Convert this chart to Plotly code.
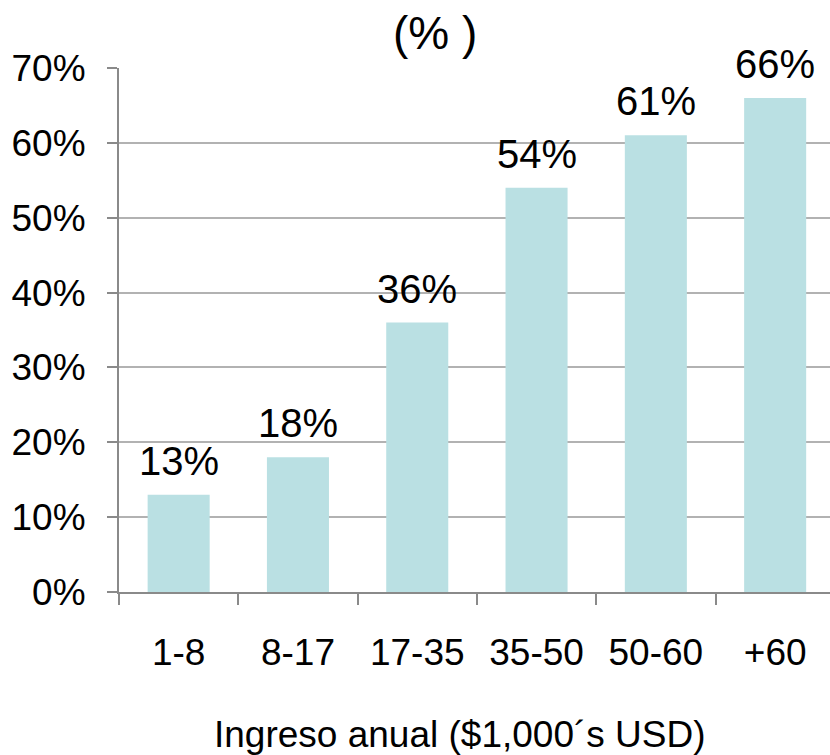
import plotly.graph_objects as go

# Share by annual income bracket (thousands of USD)
categories = ["1-8", "8-17", "17-35", "35-50", "50-60", "+60"]
values = [13, 18, 36, 54, 61, 66]
y_ticks = [0, 10, 20, 30, 40, 50, 60, 70]
y_tick_labels = [f"{t}%" for t in y_ticks]

FONT = "Liberation Sans, Arial, sans-serif"
BAR = "#bae0e3"
GRID = "#b2b2b2"
AXIS = "#8a8a8a"

W, H = 830, 755
L, R, T, B = 119, 0, 68, 163
plot_w = W - L - R
plot_h = H - T - B

def px_x(px):
    return (px - L) / plot_w

def px_y(py):
    return (H - B - py) / plot_h

fig = go.Figure(
    go.Bar(
        x=categories,
        y=values,
        marker=dict(color=BAR, line=dict(width=0)),
        hoverinfo="skip",
    )
)

# value labels above each bar (positioned by category index)
for i, v in enumerate(values):
    fig.add_annotation(
        x=i, y=v, xref="x", yref="y",
        text=f"{v}%", showarrow=False,
        yanchor="bottom", yshift=10,
        font=dict(family=FONT, size=40, color="black"),
    )

fig.add_annotation(
    x=px_x(435), y=px_y(33), xref="paper", yref="paper",
    text="(% )", showarrow=False, xanchor="center", yanchor="middle",
    font=dict(family=FONT, size=46, color="black"),
)
fig.add_annotation(
    x=px_x(460), y=px_y(734), xref="paper", yref="paper",
    text="Ingreso anual ($1,000´s USD)", showarrow=False,
    xanchor="center", yanchor="middle",
    font=dict(family=FONT, size=37, color="black"),
)

fig.update_layout(
    width=W, height=H,
    margin=dict(l=L, r=R, t=T, b=B, pad=0),
    paper_bgcolor="white", plot_bgcolor="white",
    bargap=0.48,
    showlegend=False,
    font=dict(family=FONT, color="black"),
    xaxis=dict(
        type="category",
        range=[-0.5, -0.5 + plot_w / 119.3],
        showgrid=False,
        showline=True, linecolor=AXIS, linewidth=2,
        ticks="outside", tickson="boundaries", ticklen=11,
        tickcolor=AXIS, tickwidth=2,
        tickfont=dict(family=FONT, size=37, color="black"),
        ticklabelstandoff=27,
    ),
    yaxis=dict(
        range=[0, 70],
        tickmode="array", tickvals=y_ticks, ticktext=y_tick_labels,
        showgrid=True, gridcolor=GRID, gridwidth=2,
        zeroline=False,
        showline=True, linecolor=AXIS, linewidth=2,
        ticks="outside", ticklen=10, tickcolor=AXIS, tickwidth=2,
        tickfont=dict(family=FONT, size=37, color="black"),
        ticklabelstandoff=14,
    ),
)

fig.write_html("out.html")
